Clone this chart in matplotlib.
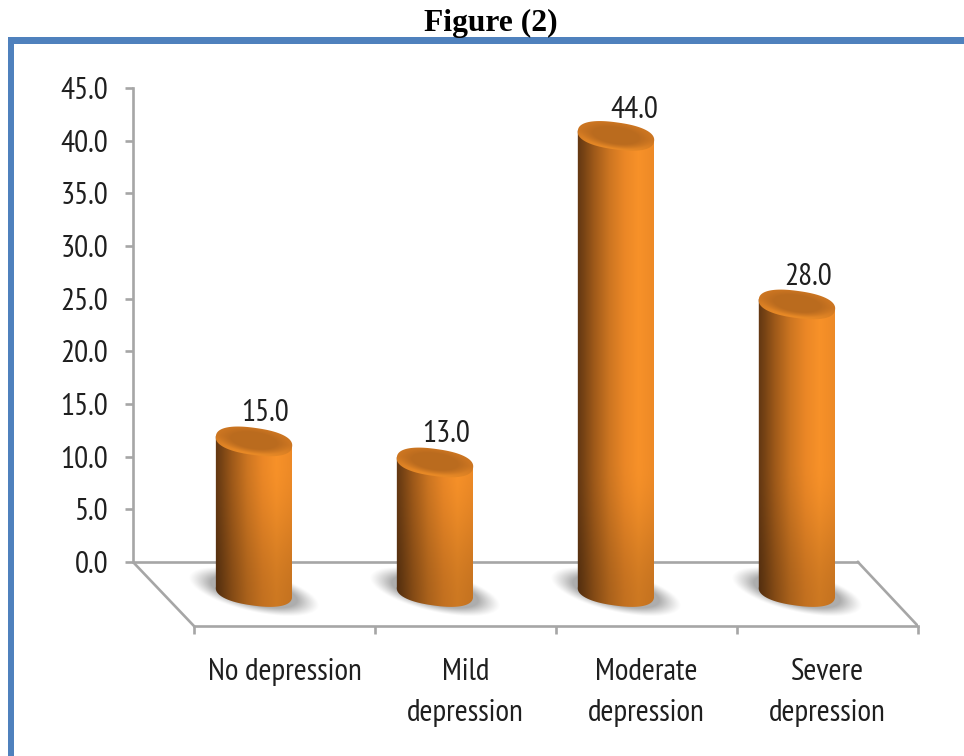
import numpy as np
import matplotlib
matplotlib.use('Agg')
import matplotlib.pyplot as plt
from matplotlib.patches import Polygon, Rectangle

# data
categories = ['No depression', 'Mild\ndepression', 'Moderate\ndepression', 'Severe\ndepression']
values = [15.0, 13.0, 44.0, 28.0]
y_ticks = [0, 5, 10, 15, 20, 25, 30, 35, 40, 45]

W, H = 964, 756
fig = plt.figure(figsize=(W / 100, H / 100), dpi=100, facecolor='white')

# axes runs from the back wall to the front floor edge
ax = fig.add_axes([133 / W, 1 - 633 / H, (918 - 133) / W, (633 - 88) / H])
ax.set_xlim(-0.6685, 3.669)
ax.set_ylim(-6.74, 45)
ax.patch.set_alpha(0)

# pixels per data unit
sx = 181.0
sy = 474 / 45

FONT = ['PT Sans Narrow', 'Open Sans', 'DejaVu Sans']
GREY = '#a6a6a6'
TXT = '#1f1f1f'
FS = 22.5

base_y = -2.85     # bars stand on the floor, in front of the wall
top_shift = 3.55   # 3D projection offset of the bar top
floor_front = -6.08
tilt = np.radians(8)
half_w = 38.5
half_h = 13.5

# the value labels are not placed quite the same way on every bar
label_dx = [8.3, 8.3, 13.0, 8.3]
label_dy = [20.5, 20.5, 19.0, 20.0]


def ellipse(cx, cy, a, b, t):
    # slightly squared ellipse, the bevel in the reference is blunt
    c = np.sign(np.cos(t)) * np.abs(np.cos(t)) ** 0.85
    s = np.sign(np.sin(t)) * np.abs(np.sin(t)) ** 0.85
    dx = a * c * np.cos(tilt) - b * s * np.sin(tilt)
    dy = a * c * np.sin(tilt) + b * s * np.cos(tilt)
    return cx + dx / sx, cy - dy / sy


def side_colour(u):
    stops = [0, 0.08, 0.22, 0.42, 0.62, 0.8, 1]
    r = np.interp(u, stops, [0.38, 0.46, 0.62, 0.80, 0.92, 0.97, 0.93])
    g = np.interp(u, stops, [0.21, 0.26, 0.35, 0.46, 0.53, 0.57, 0.54])
    b = np.interp(u, stops, [0.07, 0.08, 0.10, 0.13, 0.15, 0.16, 0.15])
    return np.dstack([r, g, b])


# wall and floor outline
ax.plot([-0.6685, 3.337], [0, 0], color=GREY, lw=1.9, zorder=1, solid_capstyle='round')
ax.plot([-0.6685, -0.3315], [0, floor_front], color=GREY, lw=1.9, zorder=1)
ax.plot([3.337, 3.669], [0, floor_front], color=GREY, lw=1.9, zorder=1)

for i, v in enumerate(values):
    top_y = v - top_shift

    # soft shadow under the bar
    xs = np.linspace(i - 80 / sx, i + 80 / sx, 160)
    ys = np.linspace(base_y - 32 / sy, base_y + 32 / sy, 64)
    gx, gy = np.meshgrid(xs, ys)
    px, py = (gx - i) * sx, -(gy - base_y) * sy
    ang = np.radians(13)
    p = px * np.cos(ang) + py * np.sin(ang)
    q = -px * np.sin(ang) + py * np.cos(ang)
    r = np.sqrt((p / 60) ** 2 + (q / 18) ** 2)
    shade = np.zeros(gx.shape + (4,))
    shade[..., :3] = 0.62
    shade[..., 3] = 0.85 * np.clip((1.12 - r) / 0.38, 0, 1) ** 1.2
    ax.imshow(shade, extent=[xs[0], xs[-1], ys[0], ys[-1]], origin='lower',
              aspect='auto', zorder=2, interpolation='bilinear')

    # cylinder body
    t_low = np.linspace(np.pi, 0, 60)
    ex, ey = ellipse(i, base_y, half_w, half_h, t_low)
    tx, ty = ellipse(i, top_y, half_w, half_h, np.array([0.0, np.pi]))
    body = Polygon(np.column_stack([np.r_[ex, tx], np.r_[ey, ty]]), transform=ax.transData)

    ys = np.linspace(base_y - 20 / sy, top_y + 10 / sy, 400)
    xs = np.linspace(0, 1, 200)
    gx, gy = np.meshgrid(xs, ys)
    ramp = np.clip((gy - base_y + 1.5) / 14, 0, 1)
    ramp = ramp * ramp * (3 - 2 * ramp)
    img = side_colour(gx) * (0.83 + 0.17 * ramp)[..., None]
    im = ax.imshow(np.clip(img, 0, 1), origin='lower', aspect='auto', zorder=3, interpolation='bilinear',
                   extent=[i - half_w / sx, i + half_w / sx, ys[0], ys[-1]])
    im.set_clip_path(body)

    # cylinder top
    t_all = np.linspace(0, 2 * np.pi, 160)
    cx, cy = ellipse(i, top_y, half_w, half_h, t_all)
    cap = Polygon(np.column_stack([cx, cy]), transform=ax.transData)
    xs = np.linspace(i - 42 / sx, i + 42 / sx, 170)
    ys = np.linspace(top_y - 20 / sy, top_y + 20 / sy, 80)
    gx, gy = np.meshgrid(xs, ys)
    px, py = (gx - i) * sx, -(gy - top_y) * sy
    p = px * np.cos(tilt) + py * np.sin(tilt)
    q = -px * np.sin(tilt) + py * np.cos(tilt)
    r = np.sqrt((p / half_w) ** 2 + (q / half_h) ** 2)
    rim = np.clip((r - 0.6) / 0.35, 0, 1)[..., None]
    low = np.clip(q / half_h, 0, 1)[..., None]
    inner = np.array([0.73, 0.42, 0.12])
    outer = np.array([0.80, 0.46, 0.13]) * (1 - low) + np.array([0.91, 0.54, 0.15]) * low
    cap_img = inner * (1 - rim) + outer * rim
    im = ax.imshow(np.clip(cap_img, 0, 1), origin='lower', aspect='auto', zorder=4,
                   extent=[xs[0], xs[-1], ys[0], ys[-1]], interpolation='bilinear')
    im.set_clip_path(cap)

    ax.annotate(f'{v:.1f}', (i, top_y), xytext=(label_dx[i], label_dy[i]), textcoords='offset points',
                ha='center', va='center', family=FONT, fontsize=FS, color=TXT, zorder=5)

ax.set_xlim(-0.6685, 3.669)
ax.set_ylim(-6.74, 45)

# value axis
ax.set_yticks(y_ticks)
ax.set_yticklabels([f'{t:.1f}' for t in y_ticks], family=FONT, fontsize=FS, color=TXT)
ax.tick_params(axis='y', color=GREY, width=1.9, length=6, pad=12)
ax.spines['left'].set_bounds(0, 45)
ax.spines['left'].set_color(GREY)
ax.spines['left'].set_linewidth(1.9)

# category axis on the front edge of the floor
ax.spines['bottom'].set_position(('data', floor_front))
ax.spines['bottom'].set_bounds(-0.3315, 3.669)
ax.spines['bottom'].set_color(GREY)
ax.spines['bottom'].set_linewidth(1.9)
ax.set_xticks([k - 0.3315 for k in range(5)])
ax.set_xticklabels([])
ax.tick_params(axis='x', which='major', color=GREY, width=1.9, length=5.5)
ax.set_xticks([k + 0.1685 for k in range(4)], minor=True)
ax.set_xticklabels(categories, minor=True, family=FONT, fontsize=FS, color=TXT, linespacing=1.58)
ax.tick_params(axis='x', which='minor', length=0, pad=23)

ax.spines['top'].set_visible(False)
ax.spines['right'].set_visible(False)

# blue frame round the figure
BLUE = '#4f81bd'
fig.add_artist(Rectangle((8 / W, 1 - 44 / H), (W - 8) / W, 7 / H, transform=fig.transFigure, color=BLUE, lw=0))
fig.add_artist(Rectangle((8 / W, 0), 5.5 / W, 1 - 37 / H, transform=fig.transFigure, color=BLUE, lw=0))

fig.text(491 / W, 1 - 23 / H, 'Figure (2)', ha='center', va='center', family='Liberation Serif',
         fontweight='bold', fontsize=22.7, color='black')

fig.savefig('out.png', dpi=100)
